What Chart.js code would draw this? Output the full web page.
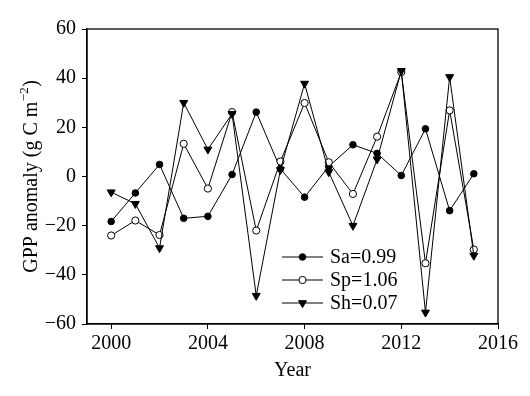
<!DOCTYPE html>
<html>
<head>
<meta charset="utf-8">
<script src="https://cdn.jsdelivr.net/npm/chart.js@4/dist/chart.umd.min.js"></script>
<style>
html,body{margin:0;padding:0;background:#fff;}
#wrap{width:530px;height:396px;position:relative;}
</style>
</head>
<body>
<div id="wrap"><canvas id="c" width="530" height="396"></canvas></div>
<script>
const years = [2000,2001,2002,2003,2004,2005,2006,2007,2008,2009,2010,2011,2012,2013,2014,2015];
const sa = [-18.3,-6.7,4.9,-17.0,-16.2,0.8,26.2,3.1,-8.4,4.1,12.9,9.4,0.4,19.4,-13.9,1.1];
const sp = [-24.0,-17.9,-23.8,13.3,-4.9,26.2,-22.0,6.1,29.9,5.8,-7.1,16.2,42.5,-35.3,26.9,-29.7];
const sh = [-6.4,-11.1,-29.1,30.0,11.0,25.5,-48.5,2.7,37.8,1.8,-20.0,7.0,43.0,-55.3,40.5,-32.2];
const seriesLabels = ['Sa=0.99','Sp=1.06','Sh=0.07'];
const xTicks = [2000,2004,2008,2012,2016];
const yTicks = [-60,-40,-20,0,20,40,60];
const xTitle = 'Year';
const yTitleMain = 'GPP anomaly (g C m';
const yTitleSup = '\u22122';
const yTitleEnd = ')';

const FONT = '"Liberation Serif", "Times New Roman", serif';
const pts = arr => years.map((y,i)=>({x:y,y:arr[i]}));

const styles = [
  {pointStyle:'circle', pointRadius:3.3, pointBackgroundColor:'#000', rotation:0},
  {pointStyle:'circle', pointRadius:3.6, pointBackgroundColor:'#fff', rotation:0},
  {pointStyle:'triangle', pointRadius:4.6, pointBackgroundColor:'#000', rotation:180}
];

function drawMarker(ctx, st, x, y){
  ctx.save();
  ctx.lineWidth = 1;
  ctx.strokeStyle = '#000';
  ctx.fillStyle = st.pointBackgroundColor;
  ctx.beginPath();
  if(st.pointStyle === 'circle'){
    ctx.arc(x,y,st.pointRadius,0,Math.PI*2);
  } else {
    const r = st.pointRadius;
    let rad = Math.PI; // pointing down
    ctx.moveTo(x + Math.sin(rad)*r, y - Math.cos(rad)*r);
    rad += 2*Math.PI/3;
    ctx.lineTo(x + Math.sin(rad)*r, y - Math.cos(rad)*r);
    rad += 2*Math.PI/3;
    ctx.lineTo(x + Math.sin(rad)*r, y - Math.cos(rad)*r);
    ctx.closePath();
  }
  ctx.fill();
  ctx.stroke();
  ctx.restore();
}

const decor = {
  id:'decor',
  afterDraw(chart){
    const ctx = chart.ctx;
    const a = chart.chartArea;
    ctx.save();
    // frame
    ctx.strokeStyle = '#000';
    ctx.lineWidth = 1.3;
    ctx.strokeRect(a.left, a.top, a.right-a.left, a.bottom-a.top);
    // titles
    ctx.fillStyle = '#000';
    ctx.font = '20px ' + FONT;
    ctx.textAlign = 'center';
    ctx.textBaseline = 'middle';
    ctx.fillText(xTitle, (a.left+a.right)/2, 371);
    // y title with superscript
    ctx.save();
    ctx.translate(32, (a.top+a.bottom)/2);
    ctx.rotate(-Math.PI/2);
    ctx.font = '20px ' + FONT;
    const w1 = ctx.measureText(yTitleMain).width;
    ctx.font = '13px ' + FONT;
    const w2 = ctx.measureText(yTitleSup).width;
    ctx.font = '20px ' + FONT;
    const w3 = ctx.measureText(yTitleEnd).width;
    const tot = w1+w2+w3+1;
    let x0 = -tot/2;
    ctx.textAlign = 'left';
    ctx.textBaseline = 'middle';
    ctx.fillText(yTitleMain, x0, 0);
    ctx.font = '13px ' + FONT;
    ctx.fillText(yTitleSup, x0+w1+0.5, -7);
    ctx.font = '20px ' + FONT;
    ctx.fillText(yTitleEnd, x0+w1+w2+1, 0);
    ctx.restore();
    // legend
    const rowsY = [257, 280, 303];
    ctx.font = '20px ' + FONT;
    ctx.textAlign = 'left';
    ctx.textBaseline = 'middle';
    seriesLabels.forEach((lab,i)=>{
      const y = rowsY[i];
      ctx.strokeStyle = '#000';
      ctx.lineWidth = 1;
      ctx.beginPath();
      ctx.moveTo(282, y); ctx.lineTo(323, y);
      ctx.stroke();
      drawMarker(ctx, styles[i], 302.5, y);
      ctx.fillStyle = '#000';
      ctx.fillText(lab, 330, y+1);
    });
    ctx.restore();
  }
};

const mkDs = (label, arr, st) => ({
  label, data: pts(arr),
  borderColor:'#000', borderWidth:1,
  pointStyle: st.pointStyle, pointRadius: st.pointRadius, pointRotation: st.rotation,
  pointBackgroundColor: st.pointBackgroundColor, pointBorderColor:'#000', pointBorderWidth:1,
  tension:0, fill:false
});

new Chart(document.getElementById('c'), {
  type:'line',
  data:{
    datasets:[
      mkDs(seriesLabels[2], sh, styles[2]),
      mkDs(seriesLabels[1], sp, styles[1]),
      mkDs(seriesLabels[0], sa, styles[0])
    ]
  },
  options:{
    responsive:false,
    animation:false,
    devicePixelRatio:1,
    layout:{padding:{top:29,right:32,left:0,bottom:0}},
    plugins:{legend:{display:false}, tooltip:{enabled:false}},
    scales:{
      x:{
        type:'linear', min:1999, max:2016,
        afterBuildTicks(s){ s.ticks = xTicks.map(v=>({value:v})); },
        afterFit(s){ s.height = 72; },
        grid:{drawOnChartArea:false, drawTicks:true, tickLength:5, color:'#000', lineWidth:1},
        border:{display:true, color:'#000', width:1.3},
        ticks:{color:'#000', font:{family:FONT, size:20}, padding:3, maxRotation:0, autoSkip:false,
          callback:v=>String(v)}
      },
      y:{
        type:'linear', min:-60, max:60,
        afterBuildTicks(s){ s.ticks = yTicks.map(v=>({value:v})); },
        afterFit(s){ s.width = 87; },
        grid:{drawOnChartArea:false, drawTicks:true, tickLength:5, color:'#000', lineWidth:1},
        border:{display:true, color:'#000', width:1.3},
        ticks:{color:'#000', font:{family:FONT, size:20}, padding:6, autoSkip:false,
          callback:v=> v<0 ? '\u2212'+Math.abs(v) : String(v)}
      }
    }
  },
  plugins:[decor]
});
</script>
</body>
</html>
